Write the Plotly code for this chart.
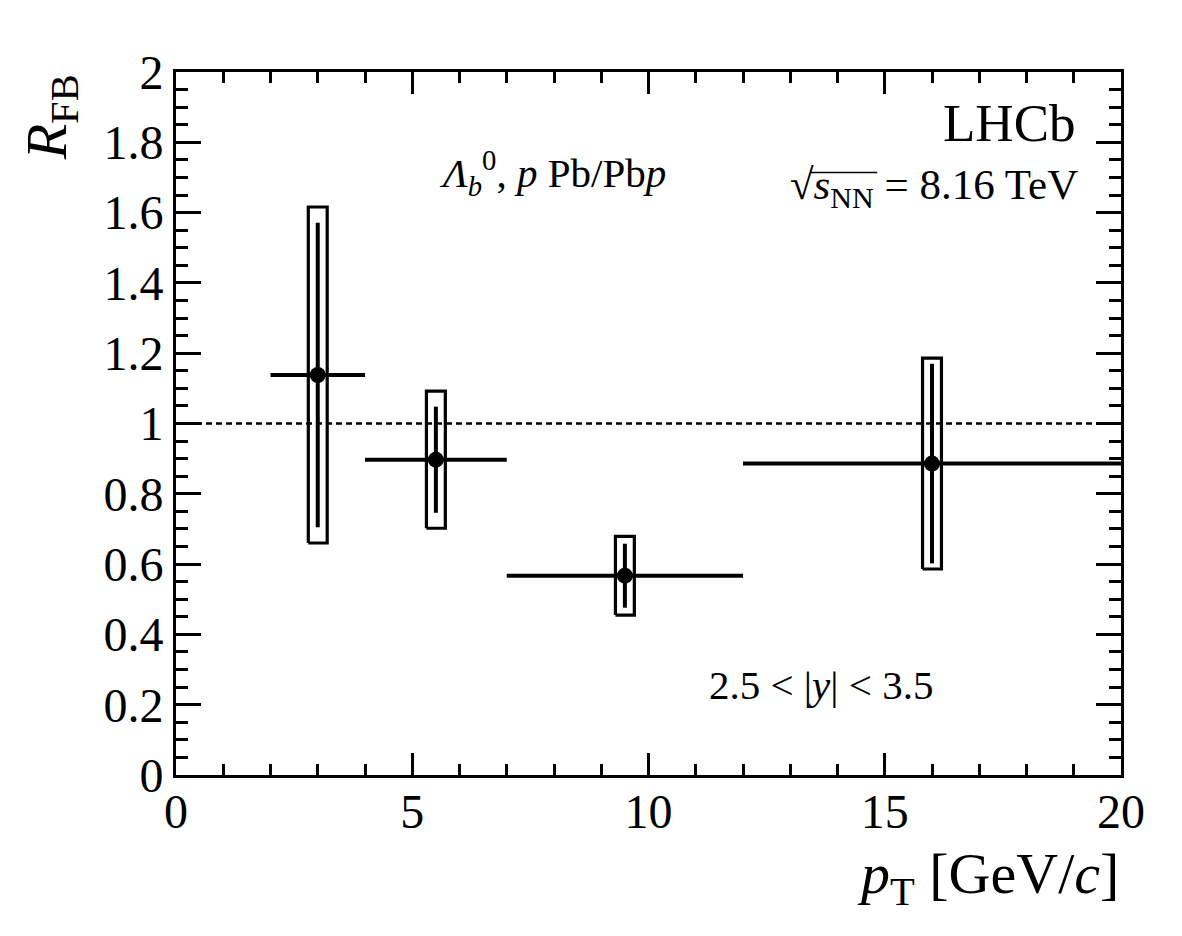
import plotly.graph_objects as go

# ---- data ----
pt_center = [3.0, 5.5, 9.5, 16.0]
pt_low = [2.0, 4.0, 7.0, 12.0]
pt_high = [4.0, 7.0, 12.0, 20.0]
r_fb = [1.138, 0.897, 0.567, 0.886]
stat_err = [0.433, 0.151, 0.091, 0.284]
syst_err = [0.478, 0.195, 0.112, 0.300]

x_tick_vals = [0, 5, 10, 15, 20]
x_tick_text = ["0", "5", "10", "15", "20"]
y_tick_vals = [0, 0.2, 0.4, 0.6, 0.8, 1.0, 1.2, 1.4, 1.6, 1.8, 2.0]
y_tick_text = ["0", "0.2", "0.4", "0.6", "0.8", "1", "1.2", "1.4", "1.6", "1.8", "2"]
ref_value = 1.0

# ---- style ----
FONT = "Liberation Serif"
BOX_HALF_WIDTH = 0.2

fig = go.Figure()

# systematic boxes
bx, by = [], []
for x, y, s in zip(pt_center, r_fb, syst_err):
    bx += [x - BOX_HALF_WIDTH, x + BOX_HALF_WIDTH, x + BOX_HALF_WIDTH, x - BOX_HALF_WIDTH, x - BOX_HALF_WIDTH, None]
    by += [y - s, y - s, y + s, y + s, y - s, None]
fig.add_trace(go.Scatter(x=bx, y=by, mode="lines",
                         line=dict(color="black", width=3.2),
                         hoverinfo="skip", showlegend=False))

# points with stat errors and bin widths
fig.add_trace(go.Scatter(
    x=pt_center, y=r_fb, mode="markers",
    marker=dict(color="black", size=16, symbol="circle"),
    error_y=dict(type="data", array=stat_err, symmetric=True,
                 thickness=4, width=0, color="black"),
    error_x=dict(type="data",
                 array=[h - c for h, c in zip(pt_high, pt_center)],
                 arrayminus=[c - l for c, l in zip(pt_center, pt_low)],
                 symmetric=False, thickness=4, width=0, color="black"),
    showlegend=False))

fig.add_shape(type="line", xref="paper", x0=0, x1=1, yref="y", y0=ref_value, y1=ref_value,
              line=dict(color="black", width=2.5, dash="6px,4px"), layer="below")

# overline of the square root sign
fig.add_shape(type="line", xref="paper", yref="paper", x0=0.671, x1=0.742, y0=0.857, y1=0.857,
              line=dict(color="black", width=1.5))

axis_common = dict(
    showline=True, linecolor="black", linewidth=3, mirror="ticks",
    ticks="inside", tickcolor="black", tickwidth=3,
    showgrid=False, zeroline=False,
    tickfont=dict(family=FONT, size=48, color="black"),
)

fig.update_xaxes(range=[0, 20], tickmode="array", tickvals=x_tick_vals, ticktext=x_tick_text,
                 ticklen=22, ticklabelstandoff=-8,
                 minor=dict(dtick=1, ticks="inside", ticklen=11, tickwidth=3, tickcolor="black", showgrid=False),
                 **axis_common)
fig.update_yaxes(range=[0, 2], tickmode="array", tickvals=y_tick_vals, ticktext=y_tick_text,
                 ticklen=25,
                 minor=dict(dtick=0.05, ticks="inside", ticklen=12, tickwidth=3, tickcolor="black", showgrid=False),
                 **axis_common)

annotations = [
    dict(text="LHCb", x=0.9545, y=0.928, xanchor="right", yanchor="middle",
         font=dict(family=FONT, size=53)),
    dict(text="√<i>s</i><sub>NN</sub> = 8.16 TeV", x=0.9566, y=0.835, xanchor="right", yanchor="middle",
         font=dict(family=FONT, size=43)),
    dict(text="<i>Λ</i><sub><i>b</i></sub><sup>0</sup>, <i>p</i> Pb/Pb<i>p</i>", x=0.276, y=0.856,
         xanchor="left", yanchor="middle", font=dict(family=FONT, size=41)),
    dict(text="2.5 &lt; |<i>y</i>| &lt; 3.5", x=0.562, y=0.128, xanchor="left", yanchor="middle",
         font=dict(family=FONT, size=41)),
    dict(text="<i>p</i><sub>T</sub> [GeV/<i>c</i>]", x=1.0, y=-0.146, xanchor="right", yanchor="middle",
         font=dict(family=FONT, size=58)),
    dict(text="<i>R</i><sub>FB</sub>", x=-0.133, y=1.0, xanchor="center", yanchor="top", textangle=-90,
         font=dict(family=FONT, size=58)),
]
for a in annotations:
    a.update(xref="paper", yref="paper", showarrow=False)
    a["font"]["color"] = "black"
fig.update_layout(annotations=annotations)

fig.update_layout(
    width=1182, height=936,
    margin=dict(l=176, r=61, t=72, b=161),
    paper_bgcolor="white", plot_bgcolor="white",
    showlegend=False,
)

fig.write_html("out.html")
